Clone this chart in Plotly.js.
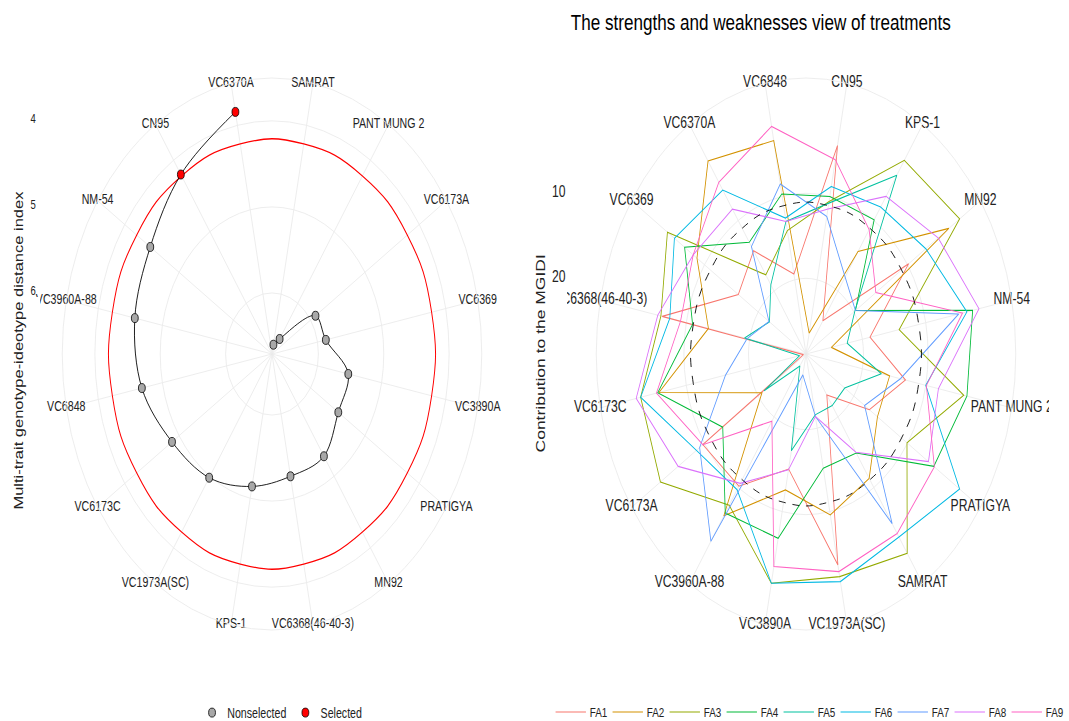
<!DOCTYPE html>
<html>
<head>
<meta charset="utf-8">
<script src="https://cdn.plot.ly/plotly-3.0.1.min.js"></script>
<style>
  html, body { margin: 0; padding: 0; overflow: hidden; background: #fff; width: 1069px; height: 721px; }
  #wrap { width: 1500px; height: 721px; transform: scaleX(0.76); transform-origin: 0 0; }
  #chart { width: 1500px; height: 721px; }
</style>
</head>
<body>
<div id="wrap"><div id="chart"></div></div>
<script>
// ---- MGIDI ranking (left panel), from highest to lowest index ----
const rankedGenotypes = ['SAMRAT', 'PANT MUNG 2', 'VC6173A', 'VC6369', 'VC3890A', 'PRATIGYA', 'MN92',
  'VC6368(46-40-3)', 'KPS-1', 'VC1973A(SC)', 'VC6173C', 'VC6848', 'VC3960A-88', 'NM-54', 'CN95', 'VC6370A'];
const mgidi = [6.60, 6.50, 5.91, 5.87, 5.52, 5.49, 5.28, 5.26, 5.14, 4.98, 4.87, 4.68, 4.57, 4.47, 4.20, 3.84];
const selectedGenotypes = ['CN95', 'VC6370A'];
const selectionCutoff = 4.22;
const mgidiTicks = [4, 5, 6];

// ---- Contribution of each factor to the MGIDI (right panel, %) ----
const genotypes = ['CN95', 'KPS-1', 'MN92', 'NM-54', 'PANT MUNG 2', 'PRATIGYA', 'SAMRAT', 'VC1973A(SC)',
  'VC3890A', 'VC3960A-88', 'VC6173A', 'VC6173C', 'VC6368(46-40-3)', 'VC6369', 'VC6370A', 'VC6848'];
const FA1 = [3.9, 24.2, 9.8, 18.8, 13.2, 17.1, 23.1, 3.6, 15.1, 10.2, 9.7, 28.5, 6.2, 16.3, 14.3, 19.3];
const FA2 = [26.4, 14.4, 2.3, 24.9, 15.7, 15.6, 11.3, 9.6, 12.6, 6.0, 20.7, 5.7, 13.5, 8.6, 1.6, 3.3];
const FA3 = [10.6, 1.5, 0.3, 14.2, 4.0, 10.1, 0.7, 2.2, 1.4, 7.5, 1.8, 2.8, 6.0, 3.1, 17.7, 14.1];
const FA4 = [10.0, 9.9, 19.7, 2.6, 3.5, 5.1, 14.9, 15.2, 6.8, 6.4, 13.4, 5.5, 11.0, 6.3, 13.1, 9.7];
const FA5 = [10.8, 3.6, 19.8, 22.4, 17.0, 21.7, 21.6, 21.6, 17.3, 27.2, 21.1, 27.9, 19.2, 22.1, 19.1, 13.0];
const FA6 = [8.8, 8.1, 6.6, 3.5, 10.0, 0.3, 3.0, 1.6, 1.4, 9.7, 8.5, 2.8, 7.4, 4.4, 5.7, 12.6];
const FA7 = [12.4, 18.0, 19.7, 4.8, 14.0, 18.0, 4.9, 21.4, 26.4, 2.4, 9.1, 16.2, 19.6, 22.0, 13.7, 8.5];
const FA8 = [11.5, 6.6, 4.3, 1.6, 8.0, 6.1, 15.0, 21.4, 15.0, 10.6, 5.1, 2.1, 5.5, 7.9, 8.4, 13.0];
const FA9 = [5.6, 11.3, 15.9, 4.2, 9.9, 5.0, 3.5, 2.8, 3.4, 19.4, 9.7, 5.3, 9.1, 7.9, 4.6, 1.6];
const factorNames = ['FA1', 'FA2', 'FA3', 'FA4', 'FA5', 'FA6', 'FA7', 'FA8', 'FA9'];
const factorValues = [FA1, FA2, FA3, FA4, FA5, FA6, FA7, FA8, FA9];
const factorColors = ['#F8766D', '#D39200', '#93AA00', '#00BA38', '#00C19F', '#00B9E3', '#619CFF', '#DB72FB', '#FF61C3'];
const contributionTicks = [10, 20];
const theoreticalContribution = 100 / factorNames.length;

// ---- layout geometry (drawn wide, then squeezed horizontally by the page wrapper) ----
const W = 1500, H = 721, SQUEEZE = 0.76;
const FONT = 'Liberation Sans, Arial, sans-serif';
const GRID = '#EBEBEB';
const leftCenter = { x: 272 / SQUEEZE, y: 354 };
const rightCenter = { x: 806 / SQUEEZE, y: 354 };
const TICK_CENTER_Y = 352;
const OUTER_R = 276;   // outer ring / spoke length; genotype names are centred on it

const closeLoop = a => a.concat([a[0]]);
const px = v => v / W;
const py = v => 1 - v / H;

function polarDomain(c, R) {
  return { x: [px(c.x - R), px(c.x + R)], y: [py(c.y + R), py(c.y - R)] };
}
function radialRange(scale, R) {
  return [scale.center, scale.center - R / scale.pxPerUnit];
}
const leftScale = { center: 6.71, pxPerUnit: 86 };
const rightScale = { center: 28.9, pxPerUnit: 8.5 };

function gridPolar(c, scale, cats, ringVals) {
  return {
    domain: polarDomain(c, OUTER_R),
    bgcolor: '#fff',
    angularaxis: {
      type: 'category', categoryorder: 'array', categoryarray: cats,
      direction: 'clockwise', rotation: 90 - 180 / cats.length,
      showgrid: true, gridcolor: GRID, gridwidth: 1,
      showline: true, linecolor: GRID, linewidth: 1,
      ticks: '', showticklabels: false
    },
    radialaxis: {
      range: radialRange(scale, OUTER_R), tickvals: ringVals,
      showgrid: true, gridcolor: GRID, gridwidth: 1,
      showline: false, ticks: '', showticklabels: false
    }
  };
}
// genotype names, centred on the outer ring at each spoke
function nameTrace(subplot, scale, cats, size) {
  const rEdge = radialRange(scale, OUTER_R)[1];
  return {
    type: 'scatterpolar', subplot: subplot, mode: 'text', showlegend: false, hoverinfo: 'skip',
    theta: cats, r: cats.map(() => rEdge), text: cats, textposition: 'middle center',
    textfont: { family: FONT, size: size, color: '#222' }, cliponaxis: false
  };
}

const traces = [];

// left: selection cutoff ring
traces.push({
  type: 'scatterpolar', subplot: 'polar', mode: 'lines', hoverinfo: 'skip', showlegend: false,
  theta: closeLoop(rankedGenotypes), r: closeLoop(rankedGenotypes.map(() => selectionCutoff)),
  line: { color: '#FF0000', width: 1.3, shape: 'spline', smoothing: 1.3 }
});
// left: MGIDI path
traces.push({
  type: 'scatterpolar', subplot: 'polar', mode: 'lines', hoverinfo: 'skip', showlegend: false,
  theta: rankedGenotypes, r: mgidi,
  line: { color: '#000', width: 1, shape: 'spline', smoothing: 1 }
});
// left: genotype points
const isSel = g => selectedGenotypes.includes(g);
[['Nonselected', false, '#A8A8A8'], ['Selected', true, '#FF0000']].forEach(([name, sel, col]) => {
  const idx = rankedGenotypes.map((g, i) => i).filter(i => isSel(rankedGenotypes[i]) === sel);
  traces.push({
    type: 'scatterpolar', subplot: 'polar', mode: 'markers', name: name, legend: 'legend',
    theta: idx.map(i => rankedGenotypes[i]), r: idx.map(i => mgidi[i]),
    marker: { size: 9, color: col, line: { color: '#000', width: 0.9 } },
    cliponaxis: false, hoverinfo: 'skip'
  });
});
traces.push(nameTrace('polar', leftScale, rankedGenotypes, 14));

// right: contribution polygons
factorNames.forEach((name, k) => {
  traces.push({
    type: 'scatterpolar', subplot: 'polar2', mode: 'lines', name: name, legend: 'legend2', hoverinfo: 'skip',
    theta: closeLoop(genotypes), r: closeLoop(factorValues[k]),
    line: { color: factorColors[k], width: 1.1 }
  });
});
// right: theoretical (equal) contribution
traces.push({
  type: 'scatterpolar', subplot: 'polar2', mode: 'lines', hoverinfo: 'skip', showlegend: false,
  theta: closeLoop(genotypes), r: closeLoop(genotypes.map(() => theoreticalContribution)),
  line: { color: '#000', width: 1, dash: 'dash', shape: 'spline', smoothing: 1.3 }
});
traces.push(nameTrace('polar2', rightScale, genotypes, 16));

// cartesian axes that carry the radial tick labels
traces.push({ type: 'scatter', x: [], y: [], xaxis: 'x', yaxis: 'y', showlegend: false, hoverinfo: 'skip' });
traces.push({ type: 'scatter', x: [], y: [], xaxis: 'x2', yaxis: 'y2', showlegend: false, hoverinfo: 'skip' });

const tickAxis = (scale, ticks, pos, size) => ({
  domain: [py(TICK_CENTER_Y), py(TICK_CENTER_Y - OUTER_R)],
  range: radialRange(scale, OUTER_R), tickvals: ticks,
  anchor: 'free', position: pos,
  showgrid: false, zeroline: false, showline: false, ticks: '',
  tickfont: { family: FONT, size: size, color: '#222' }, fixedrange: true
});

const mask = (x0, x1, y0, y1) => ({
  type: 'rect', xref: 'paper', yref: 'paper', layer: 'above',
  x0: px(x0 / SQUEEZE), x1: px(x1 / SQUEEZE), y0: py(y1), y1: py(y0),
  fillcolor: '#fff', line: { width: 0 }
});

const layout = {
  width: W, height: H,
  margin: { l: 0, r: 0, t: 0, b: 0, autoexpand: false },
  paper_bgcolor: '#fff',
  title: {
    text: 'The strengths and weaknesses view of treatments',
    x: px(1001), xanchor: 'center', xref: 'paper',
    y: py(22), yanchor: 'middle', yref: 'paper',
    font: { family: FONT, size: 22.5, color: '#000' }
  },
  polar: gridPolar(leftCenter, leftScale, rankedGenotypes, mgidiTicks),
  polar2: gridPolar(rightCenter, rightScale, genotypes, contributionTicks),
  xaxis: { visible: false, domain: [0, 0.01], fixedrange: true },
  xaxis2: { visible: false, domain: [0.5, 0.51], fixedrange: true },
  yaxis: tickAxis(leftScale, mgidiTicks, px(47), 12.5),
  yaxis2: tickAxis(rightScale, contributionTicks, px(744), 16),
  showlegend: true,
  legend: {
    orientation: 'h', x: px(259), xanchor: 'left', y: py(697), yanchor: 'top',
    font: { family: FONT, size: 14, color: '#222' }, bgcolor: 'rgba(0,0,0,0)'
  },
  legend2: {
    orientation: 'h', x: px(726), xanchor: 'left', y: py(697), yanchor: 'top',
    font: { family: FONT, size: 13, color: '#222' }, bgcolor: 'rgba(0,0,0,0)',
    itemwidth: 40, entrywidth: 20, entrywidthmode: 'pixels'
  },
  shapes: [
    mask(498, 567, 287, 314),   // panel edge trims the left-most name of the right panel
    mask(1049, 1069, 385, 420), // and the right-most one
    mask(0, 40, 297, 312)       // left panel edge
  ],
  annotations: [
    {
      text: 'Multi-trait genotype-ideotype distance index', textangle: -90,
      x: px(18 / SQUEEZE), y: py(350), xref: 'paper', yref: 'paper',
      xanchor: 'center', yanchor: 'middle', showarrow: false,
      font: { family: FONT, size: 16.5, color: '#222' }
    },
    {
      text: 'Contribution to the MGIDI', textangle: -90,
      x: px(540 / SQUEEZE), y: py(354), xref: 'paper', yref: 'paper',
      xanchor: 'center', yanchor: 'middle', showarrow: false,
      font: { family: FONT, size: 17.5, color: '#222' }
    }
  ]
};

Plotly.newPlot('chart', traces, layout, { displayModeBar: false, staticPlot: true });
</script>
</body>
</html>
